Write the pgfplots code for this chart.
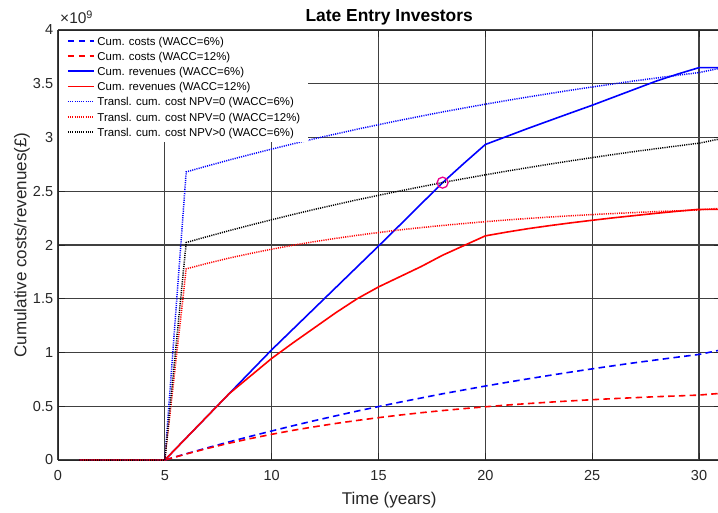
\documentclass[border=0pt]{standalone}
\usepackage{fontspec}
\setmainfont{Liberation Sans}
\usepackage{pgfplots}
\usepackage{pgfplotstable}
\pgfplotsset{compat=1.18}

\definecolor{axgray}{rgb}{0.15,0.15,0.15}

% Cumulative discounted costs and revenues (units of 10^9 GBP)
% c6/c12: cumulative costs, r6/r12: cumulative revenues,
% t6/t12: translated cumulative cost for NPV=0, tp: translated cost for NPV>0
\pgfplotstableread{
year c6    c12   r6    r12   t6    t12   tp
1    0     0     0     0     0     0     0
2    0     0     0     0     0     0     0
3    0     0     0     0     0     0     0
4    0     0     0     0     0     0     0
5    0     0     0     0     0     0     0
6    0.058 0.056 0.205 0.205 2.680 1.778 2.023
7    0.114 0.108 0.410 0.410 2.736 1.830 2.079
8    0.168 0.156 0.615 0.615 2.790 1.878 2.133
9    0.220 0.199 0.820 0.780 2.842 1.921 2.185
10   0.270 0.239 1.025 0.945 2.892 1.961 2.235
11   0.319 0.276 1.218 1.090 2.941 1.998 2.284
12   0.366 0.309 1.411 1.230 2.988 2.031 2.331
13   0.411 0.340 1.604 1.370 3.033 2.062 2.376
14   0.455 0.368 1.797 1.500 3.077 2.090 2.420
15   0.497 0.394 1.990 1.610 3.119 2.116 2.462
16   0.538 0.418 2.186 1.705 3.160 2.140 2.503
17   0.577 0.440 2.383 1.800 3.199 2.162 2.542
18   0.616 0.460 2.580 1.905 3.238 2.182 2.581
19   0.652 0.478 2.760 1.995 3.274 2.200 2.617
20   0.688 0.495 2.935 2.085 3.310 2.217 2.653
21   0.722 0.511 3.010 2.120 3.344 2.233 2.687
22   0.755 0.525 3.085 2.152 3.377 2.247 2.720
23   0.787 0.538 3.157 2.180 3.409 2.260 2.752
24   0.818 0.550 3.229 2.206 3.440 2.272 2.783
25   0.848 0.561 3.300 2.230 3.470 2.283 2.813
26   0.877 0.571 3.375 2.253 3.499 2.293 2.842
27   0.905 0.580 3.450 2.274 3.527 2.302 2.870
28   0.931 0.589 3.525 2.295 3.553 2.311 2.896
29   0.957 0.596 3.590 2.314 3.579 2.318 2.922
30   0.982 0.604 3.650 2.332 3.604 2.326 2.947
31   1.023 0.620 3.650 2.332 3.645 2.342 2.988
}\cashflows

\pgfplotsset{
  solidln/.style={line width=1.6pt},
  dashln/.style={line width=1.6pt, dash pattern=on 6.5pt off 4.3pt},
  dotln/.style={line width=1.5pt, dash pattern=on 1.1pt off 1.1pt},
}

\begin{document}
\begin{tikzpicture}
\begin{axis}[
  width=662.4pt, height=430pt, scale only axis,
  xmin=0, xmax=31, ymin=0, ymax=4,
  xtick={0,5,10,15,20,25,30},
  ytick={0,0.5,1,1.5,2,2.5,3,3.5,4},
  /pgf/number format/assume math mode=true,
  tick label style={font=\fontsize{14.5}{17}\selectfont, text=axgray},
  xticklabel style={anchor=base, inner sep=0pt, yshift=-20.7pt},
  yticklabel style={anchor=east, inner sep=0pt, xshift=-4.7pt},
  tick align=inside,
  major tick length=6.6pt,
  tick style={axgray, line width=0.9pt},
  axis line style={axgray, line width=0.9pt},
  grid=major,
  grid style={black!75, line width=1.1pt},
  title={Late Entry Investors},
  every axis title/.style={at={(rel axis cs:0.5,1)}, anchor=base, yshift=8.3pt,
    font=\bfseries\fontsize{17.4}{20}\selectfont, inner sep=0pt},
  xlabel={Time (years)},
  every axis x label/.style={at={(rel axis cs:0.5,0)}, yshift=-44.5pt,
    anchor=base, inner sep=0pt, font=\fontsize{17}{20}\selectfont, text=axgray},
  ylabel={Cumulative costs/revenues(£)},
  every axis y label/.style={at={(rel axis cs:0,0.5)}, xshift=-31.5pt,
    rotate=90, anchor=base, inner sep=0pt, font=\fontsize{17}{20}\selectfont, text=axgray},
  legend cell align=left,
  legend image code/.code={\draw[#1] (0pt,0pt) -- (26pt,0pt);},
  legend style={at={(rel axis cs:0,1)}, anchor=north west, xshift=1pt, yshift=-1pt,
    draw=none, fill=white, inner xsep=8pt, inner ysep=3pt,
    row sep=1.67pt, column sep=2.7pt,
    font=\fontsize{11.4}{13}\selectfont,
    nodes={inner sep=0pt, text height=11pt, text depth=2.5pt}},
]
\addplot[blue, dashln] table[x=year, y=c6] {\cashflows};
\addlegendentry{Cum. costs (WACC=6\%)}
\addplot[red, dashln] table[x=year, y=c12] {\cashflows};
\addlegendentry{Cum. costs (WACC=12\%)}
\addplot[blue, solidln] table[x=year, y=r6] {\cashflows};
\addlegendentry{Cum. revenues (WACC=6\%)}
\addplot[red, solidln] table[x=year, y=r12] {\cashflows};
\addlegendentry{Cum. revenues (WACC=12\%)}
\addplot[blue, dotln] table[x=year, y=t6] {\cashflows};
\addlegendentry{Transl. cum. cost NPV=0 (WACC=6\%)}
\addplot[red, dotln] table[x=year, y=t12] {\cashflows};
\addlegendentry{Transl. cum. cost NPV=0 (WACC=12\%)}
\addplot[black, dotln] table[x=year, y=tp] {\cashflows};
\addlegendentry{Transl. cum. cost NPV>0 (WACC=6\%)}
% break-even point of revenues and translated cost
\addplot[only marks, mark=o, magenta, mark size=5.5pt, line width=1.3pt, forget plot]
  coordinates {(18,2.58)};
\coordinate (sw) at (rel axis cs:0,0);
\coordinate (nw) at (rel axis cs:0,1);
\end{axis}
\node[anchor=base west, inner sep=0pt, text=axgray, font=\fontsize{15.5}{17}\selectfont]
  at ([shift={(2pt,6pt)}]nw) {×10\textsuperscript{9}};
\pgfresetboundingbox
\path ([shift={(-58pt,-52pt)}]sw) rectangle ([shift={(660pt,460pt)}]sw);
\end{tikzpicture}
\end{document}
